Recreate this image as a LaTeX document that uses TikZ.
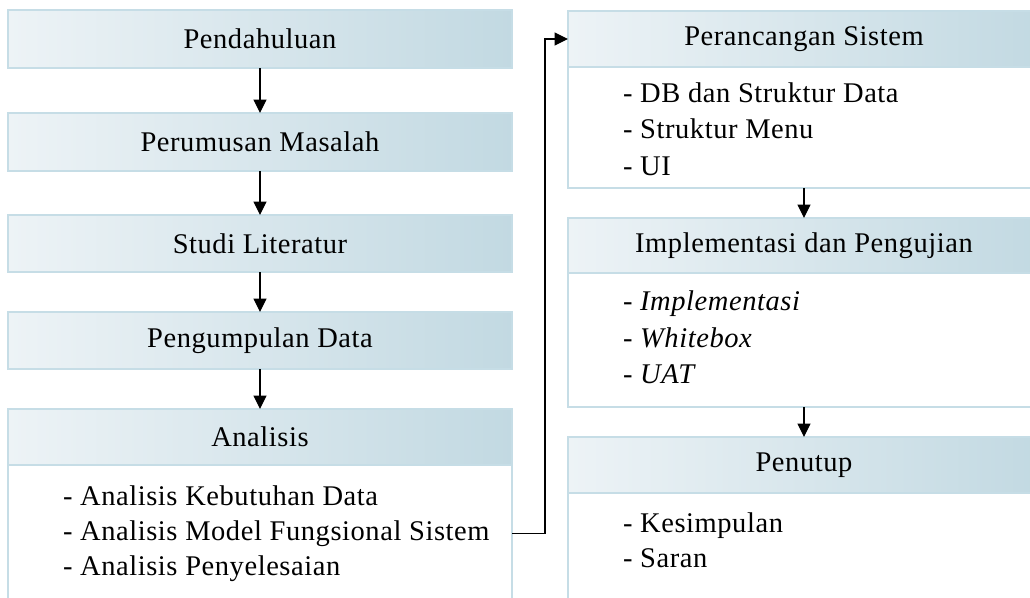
\documentclass[tikz,border=0pt]{standalone}
\usepackage{fontspec}
\setmainfont{Liberation Serif}[LetterSpace=2]
\usetikzlibrary{arrows.meta}
\definecolor{hdrL}{HTML}{EDF3F6}
\definecolor{hdrR}{HTML}{C2D9E2}
\definecolor{rim}{HTML}{C6DDE6}
\tikzset{
  base/.style={font=\fontsize{28.5}{35}\selectfont, inner sep=0pt, outer sep=0pt},
  hdr/.style={base, draw=rim, line width=1.6pt, left color=hdrL, right color=hdrR, anchor=north west},
  bodybox/.style={draw=rim, line width=1.6pt, fill=white, anchor=north west, inner sep=0pt, outer sep=0pt},
  item/.style={base, anchor=base west},
  flow/.style={line width=1.1pt, -{Triangle[width=13pt,length=13.5pt]}}
}
\begin{document}
\begin{tikzpicture}[x=1pt,y=-1pt]
\useasboundingbox (0,0) rectangle (1030,597);

% left column
\node[hdr, minimum width=504pt, minimum height=58pt] (pend) at (8,10) {Pendahuluan};
\node[hdr, minimum width=504pt, minimum height=58pt] (rumus) at (8,113) {Perumusan Masalah};
\node[hdr, minimum width=504pt, minimum height=57pt] (studi) at (8,215) {Studi Literatur};
\node[hdr, minimum width=504pt, minimum height=57pt] (kumpul) at (8,312) {Pengumpulan Data};
\node[bodybox, minimum width=504pt, minimum height=160pt] (anb) at (8,465) {};
\node[hdr, minimum width=504pt, minimum height=56pt] (ana) at (8,409) {Analisis};
\node[item] (a1) at (63,505) {- Analisis Kebutuhan Data};
\node[item] (a2) at (63,540) {- Analisis Model Fungsional Sistem};
\node[item] (a3) at (63,575) {- Analisis Penyelesaian};

% right column
\node[bodybox, minimum width=472pt, minimum height=121pt] (perb) at (568,67) {};
\node[hdr, minimum width=472pt, minimum height=56pt] (per) at (568,11) {Perancangan Sistem};
\node[item] (p1) at (623,102) {- DB dan Struktur Data};
\node[item] (p2) at (623,138) {- Struktur Menu};
\node[item] (p3) at (623,175) {- UI};

\node[bodybox, minimum width=472pt, minimum height=134pt] (impb) at (568,273) {};
\node[hdr, minimum width=472pt, minimum height=55pt] (imp) at (568,218) {Implementasi dan Pengujian};
\node[item] (i1) at (623,310) {- \textit{Implementasi}};
\node[item] (i2) at (623,347) {- \textit{Whitebox}};
\node[item] (i3) at (623,383) {- \textit{UAT}};

\node[bodybox, minimum width=472pt, minimum height=130pt] (tutb) at (568,493) {};
\node[hdr, minimum width=472pt, minimum height=56pt] (tut) at (568,437) {Penutup};
\node[item] (t1) at (623,532) {- Kesimpulan};
\node[item] (t2) at (623,567) {- Saran};

% connectors
\draw[flow] (pend.south) -- (rumus.north);
\draw[flow] (rumus.south) -- (studi.north);
\draw[flow] (studi.south) -- (kumpul.north);
\draw[flow] (kumpul.south) -- (ana.north);
\coordinate (turn) at (545,0);
\draw[flow] (anb.east |- a2) -- (turn |- a2) -- (turn |- per.west) -- (per.west);
\draw[flow] (perb.south) -- (imp.north);
\draw[flow] (impb.south) -- (tut.north);
\end{tikzpicture}
\end{document}
